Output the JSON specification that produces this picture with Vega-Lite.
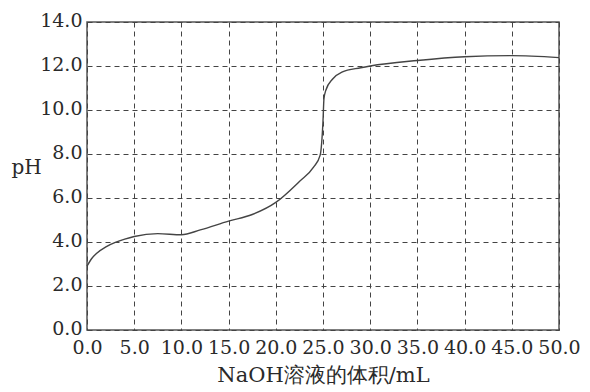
{
  "$schema": "https://vega.github.io/schema/vega-lite/v6.json",
  "width": 472,
  "height": 308,
  "autosize": "none",
  "padding": {"left": 87, "top": 22, "right": 31, "bottom": 62},
  "background": "white",
  "config": {
    "view": {"stroke": "#555555", "strokeWidth": 1.5},
    "font": "DejaVu Serif"
  },
  "data": {
    "values": [
      {"v": 0, "pH": 2.9},
      {"v": 0.5, "pH": 3.25},
      {"v": 1, "pH": 3.48},
      {"v": 2, "pH": 3.78},
      {"v": 3, "pH": 3.98},
      {"v": 4, "pH": 4.13},
      {"v": 5, "pH": 4.25},
      {"v": 7.5, "pH": 4.38},
      {"v": 10, "pH": 4.33},
      {"v": 12, "pH": 4.55},
      {"v": 15, "pH": 4.95},
      {"v": 17.5, "pH": 5.25},
      {"v": 20, "pH": 5.8},
      {"v": 22.5, "pH": 6.75},
      {"v": 24, "pH": 7.4},
      {"v": 24.7, "pH": 7.95},
      {"v": 25.0, "pH": 9.5},
      {"v": 25.1, "pH": 10.5},
      {"v": 25.3, "pH": 10.9},
      {"v": 26, "pH": 11.4},
      {"v": 27, "pH": 11.72},
      {"v": 29, "pH": 11.92},
      {"v": 30, "pH": 12.0},
      {"v": 35, "pH": 12.25},
      {"v": 40, "pH": 12.42},
      {"v": 45, "pH": 12.47},
      {"v": 50, "pH": 12.38}
    ]
  },
  "mark": {"type": "line", "interpolate": "monotone", "color": "#444444", "strokeWidth": 1.4},
  "encoding": {
    "x": {
      "field": "v",
      "type": "quantitative",
      "scale": {"domain": [0, 50], "nice": false, "zero": false},
      "axis": {
        "title": "NaOH溶液的体积/mL",
        "values": [0, 5, 10, 15, 20, 25, 30, 35, 40, 45, 50],
        "format": ".1f",
        "labelOverlap": false,
        "labelFlush": false,
        "labelFont": "DejaVu Serif",
        "labelFontSize": 19,
        "labelColor": "#2a2a2a",
        "labelPadding": 8,
        "ticks": false,
        "domain": false,
        "grid": true,
        "gridColor": "#444444",
        "gridDash": [5, 4],
        "gridWidth": 1,
        "titleFont": "DejaVu Serif",
        "titleFontSize": 21,
        "titleFontWeight": "normal",
        "titleColor": "#2a2a2a",
        "titlePadding": 7
      }
    },
    "y": {
      "field": "pH",
      "type": "quantitative",
      "scale": {"domain": [0, 14], "nice": false, "zero": false},
      "axis": {
        "title": "pH",
        "titleAngle": 0,
        "titleX": -61,
        "titleY": 145,
        "titleAlign": "center",
        "titleBaseline": "middle",
        "values": [0, 2, 4, 6, 8, 10, 12, 14],
        "format": ".1f",
        "labelOverlap": false,
        "labelFont": "DejaVu Serif",
        "labelFontSize": 19,
        "labelColor": "#2a2a2a",
        "labelPadding": 5,
        "labelOffset": -2,
        "ticks": false,
        "domain": false,
        "grid": true,
        "gridColor": "#444444",
        "gridDash": [5, 4],
        "gridWidth": 1,
        "titleFont": "DejaVu Serif",
        "titleFontSize": 20,
        "titleFontWeight": "normal",
        "titleColor": "#2a2a2a"
      }
    }
  }
}
